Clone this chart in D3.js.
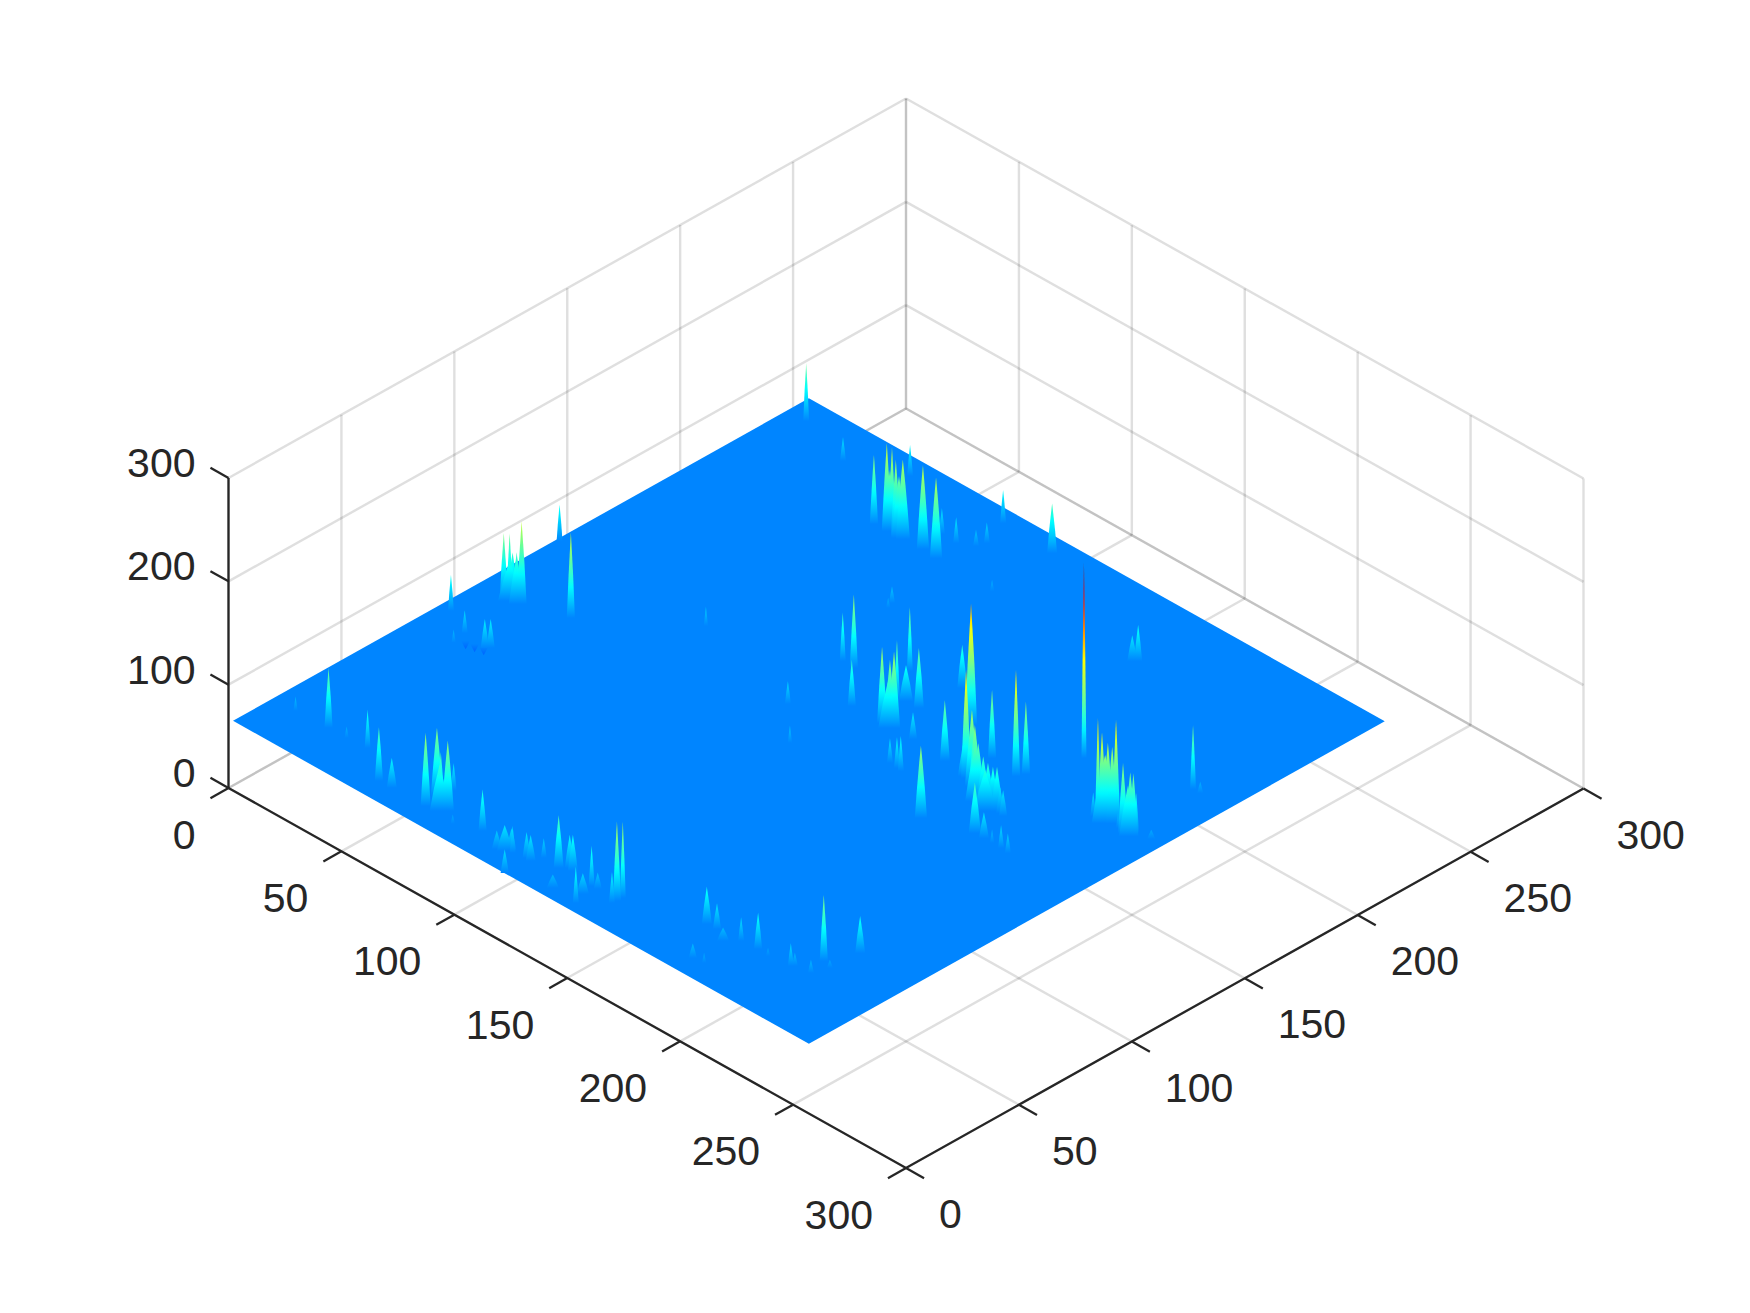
<!DOCTYPE html>
<html>
<head>
<meta charset="utf-8">
<script src="https://cdn.jsdelivr.net/npm/d3@7"></script>
<style>html,body{margin:0;padding:0;background:#fff}svg{display:block}text{font-family:"Liberation Sans",Arial,sans-serif;font-size:41px;fill:#262626}</style>
</head>
<body>
<svg id="chart" width="1750" height="1313"></svg>
<script>
const aTicks = [0, 50, 100, 150, 200, 250, 300];
const bTicks = [0, 50, 100, 150, 200, 250, 300];
const zTicks = [0, 100, 200, 300];
const surfaceExtent = [1, 256];
const surfaceLevel = 65;
const colorMax = 255;

// Surface peaks: grid position, height, half-width in grid cells
const peakA = [33.3,65.1,70.7,71.8,74.7,77.4,71.4,54.1,85.8,92.3,84.1,90.8,96.4,97.6,93.3,116,204,131.1,117.5,112.3,
 132.1,145.5,149.2,150.1,140.1,142.1,147.7,100.3,101.4,149.4,166,185.8,196.1,197.5,183.7,177.7,176.4,158.7,163,166.6,
 168.6,174.4,191.6,209.5,213.5,217.2,221.2,224.7,185,190.3,194.9,197.6,199.9,202.1,204,205.7,207.2,209,
 24.9,10.9,41.5,32.9,57,62.6,77.3,75.8,84.1,80.6,77.5,5.8,17.6,27.9,29.2,19,12.4,12.1,14.3,18.7,16.4,2.2,35.1,
 99.7,110,112.5,114,115,121.2,120.1,122.2,123.9,131.2,133.6,135.5,148.8,145.6,148.1,146.8,157.1,157.2,156.8,137.8,
 186.1,190.3,196.4,200.4,207.3,221.3,222.2,226.6,231.5,196.4,200.9,228.5,230.7,212.3,90.3,
 232.8,233.7,235,236,236.8,234.4,242.3,245.1,245.8,245.2,229,239.2,243.2,250.9,240.4,243.6,9.4,68.2,117.1,133,117.7,
 20.9,24.1,27.3,
 76.1,14.9,17.6,244.6,203,196.9,148.8,82.3];
const peakB = [238.8,220.7,220.8,222,220.8,221.2,221.5,247.7,221.7,221,231.8,231.4,234.6,238.2,249.7,248.7,174.8,170.6,159.4,159.7,
 143.9,143.9,143.7,144.6,155.9,157.9,158,193.5,190.7,175.5,162.8,140.8,152.6,155.6,154.4,225.1,223.8,144.4,129.9,129.4,
 129.1,142.8,115,121,121,120.9,120.9,120.4,141.5,138.9,135.6,134.4,134.3,134.2,134.5,134.6,134.5,134,
 19.4,18.8,20.1,19.4,9.6,9.7,10,16.5,13,13.4,22.2,92.7,87,85.6,86.9,80.7,109.5,112.4,111.5,111.1,111.2,144.4,116.5,
 12.8,8.8,9.8,11.3,10.8,1.1,11.9,11.6,15.7,15,17.5,17,5,15.2,15.4,10.1,14.9,17.4,13,5.8,
 25.7,26,22.6,26.6,27.2,27.7,28.6,37,48.2,9.2,9.7,29.4,35.6,26.6,9,
 152.2,153.1,154.4,155.3,156.2,153.8,153.8,154.2,154.9,156.7,153.9,154.7,153.9,157.7,186.7,186.7,246.4,143.2,130.6,115.6,220.4,
 84.1,84.9,85.7,
 220.8,109.7,110,153.7,132,133.7,143.3,11.2];
const peakZ = [88,132,150,146,139,142,124,95,146,143,90,90,81,85,97,113,254,127,136,112,
 110,139,131,139,124,100,123,81,75,107,183,170,168,135,131,100,90,91,89,95,
 99,124,135,114,90,78,87,84,110,139,134,121,111,108,106,108,90,90,
 123,79,102,76,117,94,136,131,133,117,92,100,87,93,93,78,128,124,109,145,112,100,148,
 105,83,90,87,91,88,90,90,84,116,97,100,100,104,81,85,142,139,95,78,
 101,90,78,88,100,87,78,129,101,79,75,78,73,73,74,
 167,153,143,139,165,131,133,127,126,104,88,80,85,74,127,76,121,84,87,82,76,
 57,57,57,
 125,105,111,114,105,119,111,110];
const peakW = [1.3,1.8,2.2,1.8,2.2,3.1,3.5,1.3,2.7,2.7,1.3,1.3,1.3,1.3,1.3,2.2,1.1,1.3,1.8,1.3,
 1.8,2.2,2.7,2.7,1.3,3.1,2.2,1.3,0.9,2.2,2.7,2.2,1.8,1.8,1.8,1.8,2.2,1.8,1.3,1.3,
 1.3,2.2,2.7,2.7,2.2,0.9,1.3,1.3,3.5,3.1,3.1,3.1,3.1,3.1,2.7,2.7,1.8,1.8,
 1.8,0.9,1.3,0.9,1.8,2.2,2.2,2.7,2.7,1.8,1.3,1.3,1.3,1.8,1.8,0.9,1.8,1.3,2.7,2.2,2.2,1.3,1.8,
 1.8,2.2,3.5,2.2,1.3,1.8,1.8,2.2,1.3,2.2,2.2,2.2,1.3,1.3,1.8,2.7,1.8,1.3,1.3,2.7,
 2.2,1.8,2.7,1.3,1.8,1.3,1.3,1.8,2.2,1.8,0.9,1.3,1.3,0.9,0.9,
 1.3,2.2,2.7,2.7,1.8,6,2.2,2.7,2.2,1.3,1.3,0.9,1.3,1.8,1.3,1.3,1.3,0.9,1.3,0.9,0.9,
 1.8,1.8,1.8,
 3.5,5.3,3.5,4,5,4.4,4.4,4.4];

const xA = d3.scaleLinear().domain([0, 300]).range([0, 677.5]);
const yA = d3.scaleLinear().domain([0, 300]).range([0, 380]);
const xB = d3.scaleLinear().domain([0, 300]).range([0, 677.5]);
const yB = d3.scaleLinear().domain([0, 300]).range([0, -379.5]);
const zS = d3.scaleLinear().domain([0, 300]).range([0, -310]);
const ox = 228.5, oy = 788;
const P = (a, b, z) => [ox + xA(a) + xB(b), oy + yA(a) + yB(b) + zS(z)];

const jet = d3.scaleLinear()
  .domain([0, .125, .375, .625, .875, 1].map(t => t * colorMax))
  .range(["#00007f", "#0000ff", "#00ffff", "#ffff00", "#ff0000", "#7f0000"])
  .clamp(true);

const svg = d3.select("#chart");
const defs = svg.append("defs");
const line = d3.line();
const ink = "#262626";

// Grid on floor and walls
const gridG = svg.append("g").attr("fill", "none").attr("stroke", ink)
  .attr("stroke-opacity", 0.15).attr("stroke-width", 2.4);
const gridSegs = [];
aTicks.forEach(a => {
  gridSegs.push([P(a, 0, 0), P(a, 300, 0)]);
  gridSegs.push([P(a, 300, 0), P(a, 300, 300)]);
});
bTicks.forEach(b => {
  gridSegs.push([P(0, b, 0), P(300, b, 0)]);
  gridSegs.push([P(0, b, 0), P(0, b, 300)]);
});
zTicks.forEach(z => {
  gridSegs.push([P(0, 0, z), P(0, 300, z)]);
  gridSegs.push([P(0, 300, z), P(300, 300, z)]);
});
gridG.selectAll("path").data(gridSegs).join("path").attr("d", line);

// Flat part of the surface
const [s0, s1] = surfaceExtent;
svg.append("path")
  .attr("d", line([P(s0, s0, surfaceLevel), P(s0, s1, surfaceLevel), P(s1, s1, surfaceLevel), P(s1, s0, surfaceLevel)]) + "Z")
  .attr("fill", jet(surfaceLevel));

// Peaks, back to front
const peaks = d3.sort(peakA.map((a, i) => ({a, b: peakB[i], z: peakZ[i], w: peakW[i], i})), d => d.a - d.b);
const stopT = d3.range(0, 1.001, 1 / 14);
peaks.forEach(p => {
  const base = P(p.a, p.b, surfaceLevel), top = P(p.a, p.b, p.z);
  const id = "peak" + p.i;
  const g = defs.append("linearGradient").attr("id", id).attr("gradientUnits", "userSpaceOnUse")
    .attr("x1", 0).attr("x2", 0).attr("y1", base[1]).attr("y2", top[1]);
  stopT.forEach(t => g.append("stop").attr("offset", t)
    .attr("stop-color", jet(surfaceLevel + t * (p.z - surfaceLevel))));
  const hw = xA(p.w);
  const midY = (base[1] + top[1]) / 2;
  const ctx = d3.path();
  ctx.moveTo(base[0] - hw, base[1]);
  ctx.quadraticCurveTo(base[0] - hw * 0.62, midY, top[0], top[1]);
  ctx.quadraticCurveTo(base[0] + hw * 0.62, midY, base[0] + hw, base[1]);
  ctx.closePath();
  svg.append("path").attr("d", ctx.toString()).attr("fill", `url(#${id})`);
});

// Axes
const axisG = svg.append("g").attr("fill", "none").attr("stroke", ink).attr("stroke-width", 2.3);
const tickDX = xA(8), tickDY = yA(8);
axisG.append("path").attr("d", line([P(0, 0, 0), P(300, 0, 0), P(300, 300, 0)]));
axisG.append("path").attr("d", line([P(0, 0, 0), P(0, 0, 300)]));
aTicks.forEach(a => { const p = P(a, 0, 0); axisG.append("path").attr("d", line([p, [p[0] - tickDX, p[1] + tickDY]])); });
bTicks.forEach(b => { const p = P(300, b, 0); axisG.append("path").attr("d", line([p, [p[0] + tickDX, p[1] + tickDY]])); });
zTicks.forEach(z => { const p = P(0, 0, z); axisG.append("path").attr("d", line([p, [p[0] - tickDX, p[1] - tickDY]])); });

const labels = svg.append("g");
aTicks.forEach(a => { const p = P(a, 0, 0);
  labels.append("text").attr("x", p[0] - 33).attr("y", p[1] + 60.5).attr("text-anchor", "end").text(a); });
bTicks.forEach(b => { const p = P(300, b, 0);
  labels.append("text").attr("x", p[0] + 33).attr("y", p[1] + 60).attr("text-anchor", "start").text(b); });
zTicks.forEach(z => { const p = P(0, 0, z);
  labels.append("text").attr("x", p[0] - 33).attr("y", p[1] - 1).attr("text-anchor", "end").text(z); });
</script>
</body>
</html>
